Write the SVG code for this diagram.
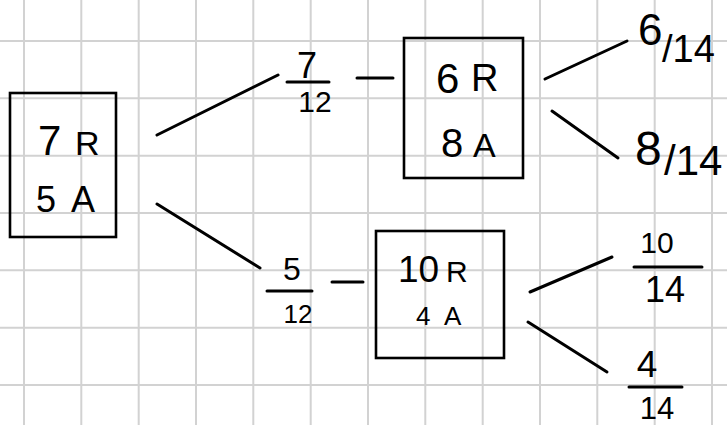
<svg xmlns="http://www.w3.org/2000/svg" width="727" height="425" viewBox="0 0 727 425">
<style>
.grid{stroke:#d2d2d2;stroke-width:2;fill:none}
.box{fill:none;stroke:#000;stroke-width:2.6}
.ln{stroke:#000;stroke-width:3;stroke-linecap:round;fill:none}
text{font-family:"Liberation Sans",Arial,sans-serif;fill:#000}
</style>
<rect width="727" height="425" fill="#fff"/>
<path class="grid" d="M24 0V425M81.3 0V425M138.7 0V425M196 0V425M253.3 0V425M310.7 0V425M368 0V425M425.3 0V425M482.7 0V425M540 0V425M597.3 0V425M654.7 0V425M712 0V425M0 41H727M0 98.3H727M0 155.7H727M0 213H727M0 270.3H727M0 327.7H727M0 385H727"/>
<g id="connectors">
<path class="ln" d="M157 135L278 75"/>
<path class="ln" d="M157 204L260 268"/>
<path class="ln" d="M357 78H393"/>
<path class="ln" d="M332 282H363"/>
<path class="ln" d="M545 79L627 41"/>
<path class="ln" d="M552 111L618 158"/>
<path class="ln" d="M530 292L612 257"/>
<path class="ln" d="M528 322L607 372"/>
</g>
<g id="node-start">
<rect class="box" x="10" y="93" width="106" height="144"/>
<text font-size="42"><tspan x="38" y="155">7</tspan><tspan x="75" y="155" font-size="34">R</tspan></text>
<text font-size="36"><tspan x="36" y="212">5</tspan><tspan x="71" y="212">A</tspan></text>
</g>
<g id="label-7-12">
<text x="307" y="78" font-size="36" text-anchor="middle">7</text>
<path class="ln" d="M287 82H329"/>
<text x="315" y="112" font-size="30" text-anchor="middle">12</text>
</g>
<g id="label-5-12">
<text x="292" y="280" font-size="32" text-anchor="middle">5</text>
<path class="ln" d="M267 291H312"/>
<text x="298" y="323" font-size="26" text-anchor="middle">12</text>
</g>
<g id="node-top">
<rect class="box" x="404" y="38" width="119" height="140"/>
<text font-size="42"><tspan x="436" y="93">6</tspan><tspan x="471" y="91" font-size="38">R</tspan></text>
<text font-size="40"><tspan x="441" y="157">8</tspan><tspan x="473" y="157" font-size="34">A</tspan></text>
</g>
<g id="node-bottom">
<rect class="box" x="376" y="231" width="128" height="127"/>
<text font-size="37"><tspan x="398" y="282">10</tspan><tspan x="446" y="282" font-size="30">R</tspan></text>
<text font-size="26"><tspan x="416" y="325">4</tspan><tspan x="444" y="325">A</tspan></text>
</g>
<g id="leaf-6-14">
<text font-size="44"><tspan x="638" y="45">6</tspan><tspan x="662" y="62" font-size="38">/14</tspan></text>
</g>
<g id="leaf-8-14">
<text font-size="48"><tspan x="635" y="165">8</tspan><tspan x="664" y="175" font-size="42">/14</tspan></text>
</g>
<g id="leaf-10-14">
<text x="657" y="253" font-size="30" text-anchor="middle">10</text>
<path class="ln" d="M634 267H702"/>
<text x="665" y="302" font-size="36" text-anchor="middle">14</text>
</g>
<g id="leaf-4-14">
<text x="647" y="377" font-size="37" text-anchor="middle">4</text>
<path class="ln" d="M629 387H682"/>
<text x="657" y="419" font-size="31" text-anchor="middle">14</text>
</g>
</svg>
